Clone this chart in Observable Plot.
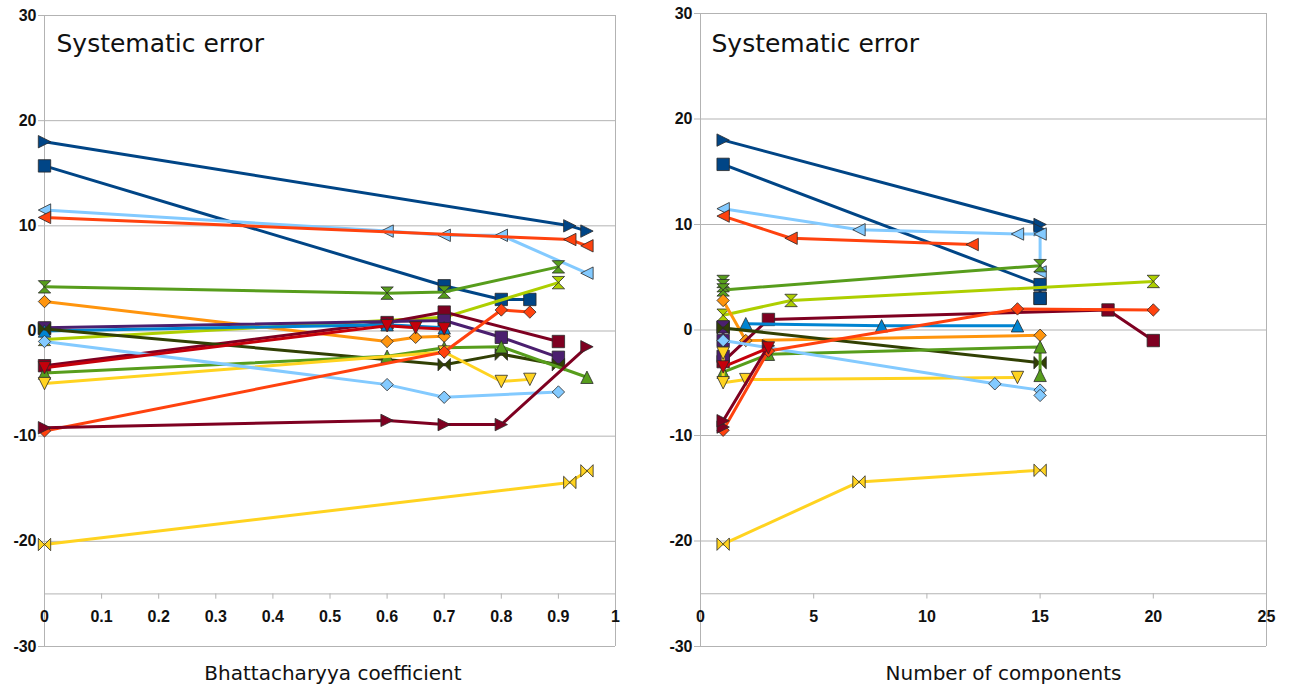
<!DOCTYPE html>
<html>
<head>
<meta charset="utf-8">
<script src="https://cdn.jsdelivr.net/npm/d3@7"></script>
<script src="https://cdn.jsdelivr.net/npm/@observablehq/plot@0.6"></script>
<style>
  html, body { margin: 0; padding: 0; background: #fff; }
  #wrap { position: relative; width: 1292px; height: 688px; }
  #left, #right { position: absolute; top: 0; }
  #left { left: 0; }
  #right { left: 646px; }
  .ticklab, .ticklab text { font-weight: 700 !important; font-family: 'Liberation Sans', Arial, sans-serif !important; }
</style>
</head>
<body>
<div id="wrap"><div id="left"></div><div id="right"></div></div>
<script>
// ---- Series styling (one entry per series) ----
const seriesColor = ["#004586","#004586","#83caff","#ff420e","#579d1c","#aecf00","#ff950e","#7e0021","#4b1f6f","#0084d1","#314004","#579d1c","#ffd320","#83caff","#ff420e","#7e0021","#ffd320","#c5000b"];
const seriesShape = ["triRight","square","triLeft","triLeft","hourglass","hourglass","diamond","square","square","triUp","bowtie","triUp","triDown","diamond","diamond","triRight","bowtie","triDown"];

// ---- Left panel: Bhattacharyya coefficient ----
const bcX = [
  [0,0.92,0.95],
  [0,0.7,0.8,0.85],
  [0,0.6,0.7,0.8,0.95],
  [0,0.92,0.95],
  [0,0.6,0.7,0.9],
  [0,0.7,0.9],
  [0,0.6,0.65,0.7],
  [0,0.6,0.7,0.9],
  [0,0.7,0.8,0.9],
  [0,0.6,0.7],
  [0,0.7,0.8,0.9],
  [0,0.6,0.7,0.8,0.95],
  [0,0.7,0.8,0.85],
  [0,0.6,0.7,0.9],
  [0,0.7,0.8,0.85],
  [0,0.6,0.7,0.8,0.95],
  [0,0.92,0.95],
  [0,0.6,0.65,0.7]
];
const bcY = [
  [18.0,10.0,9.5],
  [15.7,4.3,3.0,3.0],
  [11.5,9.5,9.1,9.1,5.5],
  [10.8,8.7,8.1],
  [4.2,3.6,3.7,6.1],
  [-0.8,1.3,4.6],
  [2.8,-1.0,-0.6,-0.5],
  [-3.3,0.8,1.8,-1.0],
  [0.3,1.0,-0.6,-2.5],
  [0.0,0.6,0.3],
  [0.2,-3.2,-2.2,-3.2],
  [-4.0,-2.4,-1.6,-1.5,-4.4],
  [-5.0,-2.0,-4.8,-4.6],
  [-1.0,-5.1,-6.3,-5.8],
  [-9.5,-2.0,2.0,1.8],
  [-9.2,-8.5,-8.9,-8.9,-1.5],
  [-20.3,-14.4,-13.3],
  [-3.5,0.5,0.3,0.2]
];

// ---- Right panel: Number of components ----
const ncX = [
  [1,15,15],
  [1,15,15,15],
  [1,7,14,15,15],
  [1,4,12],
  [1,1,1,15],
  [1,4,20],
  [1,2,15],
  [1,3,18,20],
  [1,1,1],
  [2,8,14],
  [1,15],
  [1,3,15,15],
  [1,1,2,14],
  [1,13,15,15],
  [1,3,14,20],
  [1,1,3],
  [1,7,15],
  [1,3]
];
const ncY = [
  [18.0,10.0,9.5],
  [15.7,4.3,3.0,3.0],
  [11.5,9.5,9.1,9.1,5.5],
  [10.8,8.7,8.1],
  [4.6,4.2,3.8,6.1],
  [1.4,2.8,4.6],
  [2.8,-1.0,-0.5],
  [-3.0,1.0,1.9,-1.0],
  [0.3,-1.0,-2.5],
  [0.6,0.4,0.4],
  [0.2,-3.1],
  [-4.0,-2.3,-1.6,-4.3],
  [-2.2,-5.0,-4.7,-4.5],
  [-1.0,-5.1,-5.7,-6.2],
  [-9.5,-2.0,2.0,1.9],
  [-9.2,-8.6,-1.5],
  [-20.3,-14.4,-13.3],
  [-3.5,-1.7]
];

// ---- Axis ticks and labels ----
const yTicks = [-30,-20,-10,0,10,20,30];
const yTickLabels = ["-30","-20","-10","0","10","20","30"];
const bcTicks = [0,0.1,0.2,0.3,0.4,0.5,0.6,0.7,0.8,0.9,1];
const bcTickLabels = ["0","0.1","0.2","0.3","0.4","0.5","0.6","0.7","0.8","0.9","1"];
const ncTicks = [0,5,10,15,20,25];
const ncTickLabels = ["0","5","10","15","20","25"];
const panelTitle = "Systematic error";
const bcTitle = "Bhattacharyya coefficient";
const ncTitle = "Number of components";
const xAxisAt = -25;

// ---- Custom marker symbols ----
function sym(f) { return { draw(ctx, size) { const s = Math.sqrt(size / Math.PI); f(ctx, s); } }; }
const symbols = {
  square: sym((c, s) => { c.rect(-s, -s, 2 * s, 2 * s); }),
  diamond: sym((c, s) => { c.moveTo(0, -s); c.lineTo(s, 0); c.lineTo(0, s); c.lineTo(-s, 0); c.closePath(); }),
  triRight: sym((c, s) => { c.moveTo(-s, -s); c.lineTo(s, 0); c.lineTo(-s, s); c.closePath(); }),
  triLeft: sym((c, s) => { c.moveTo(s, -s); c.lineTo(-s, 0); c.lineTo(s, s); c.closePath(); }),
  triUp: sym((c, s) => { c.moveTo(0, -s); c.lineTo(s, s); c.lineTo(-s, s); c.closePath(); }),
  triDown: sym((c, s) => { c.moveTo(-s, -s); c.lineTo(s, -s); c.lineTo(0, s); c.closePath(); }),
  hourglass: sym((c, s) => { c.moveTo(-s, -s); c.lineTo(s, -s); c.lineTo(-s, s); c.lineTo(s, s); c.closePath(); }),
  bowtie: sym((c, s) => { c.moveTo(-s, -s); c.lineTo(-s, s); c.lineTo(s, -s); c.lineTo(s, s); c.closePath(); })
};

const GRID = "#b3b3b3";
const TICKFONT = "'Liberation Sans', Arial, sans-serif";
const LABELFONT = "'DejaVu Sans', sans-serif";

function panel({xs, ys, xDomain, xTicks, xTickLabels, xTitle, marginLeft, marginRight, marginTop, titleDx, titleDy, xTitleDx}) {
  const marks = [];
  marks.push(Plot.ruleY(yTicks, {stroke: GRID, strokeWidth: 1}));
  marks.push(Plot.ruleX([xDomain[0], xDomain[1]], {stroke: GRID, strokeWidth: 1}));
  marks.push(Plot.ruleY([xAxisAt], {stroke: GRID, strokeWidth: 1}));
  marks.push(Plot.ruleX(xTicks, {x: d => d, y1: xAxisAt, y2: xAxisAt - 0.5, stroke: GRID}));
  // y-axis outer ticks only (labels drawn separately in bold)
  marks.push(Plot.axisY({ticks: yTicks, tickSize: 6, stroke: GRID, tickFormat: () => "", label: null}));
  marks.push(Plot.text(yTicks, {y: d => d, x: xDomain[0], dx: -8, textAnchor: "end", text: (d, i) => yTickLabels[i], fontFamily: TICKFONT, fontSize: 16, fontWeight: "bold", fill: "#111", className: "ticklab"}));
  marks.push(Plot.text(xTicks, {x: d => d, y: xAxisAt - 2.15, text: (d, i) => xTickLabels[i], fontFamily: TICKFONT, fontSize: 16, fontWeight: "bold", fill: "#111", className: "ticklab"}));
  for (let i = 0; i < xs.length; i++) {
    const rows = xs[i].map((x, j) => ({x, y: ys[i][j]}));
    marks.push(Plot.line(rows, {x: "x", y: "y", stroke: seriesColor[i], strokeWidth: 3, strokeLinejoin: "round", strokeLinecap: "round"}));
    marks.push(Plot.dot(rows, {x: "x", y: "y", symbol: symbols[seriesShape[i]], r: 6.2, fill: seriesColor[i], stroke: "#2a2a2a", strokeWidth: 0.8}));
  }
  marks.push(Plot.text([panelTitle], {frameAnchor: "top-left", textAnchor: "start", lineAnchor: "middle", dx: titleDx, dy: titleDy, fontSize: 25, fontFamily: LABELFONT, fill: "#111"}));
  marks.push(Plot.text([xTitle], {frameAnchor: "bottom", textAnchor: "middle", lineAnchor: "middle", dx: xTitleDx, dy: 27, fontSize: 20, fontFamily: LABELFONT, fill: "#111"}));
  const svg = Plot.plot({
    width: 646, height: 688,
    marginLeft, marginRight, marginTop, marginBottom: 42,
    x: {type: "linear", domain: xDomain, axis: null, label: null},
    y: {type: "linear", domain: [-30, 30], axis: null, label: null},
    style: {background: "#fff", fontFamily: TICKFONT, overflow: "visible"},
    marks
  });
  d3.select(svg).selectAll(".ticklab text").style("font-weight", "700");
  return svg;
}

document.getElementById("left").appendChild(panel({
  xs: bcX, ys: bcY, xDomain: [0, 1], xTicks: bcTicks, xTickLabels: bcTickLabels, xTitle: bcTitle,
  marginLeft: 44, marginRight: 31, marginTop: 15, titleDx: 12, titleDy: 28, xTitleDx: 3
}));
document.getElementById("right").appendChild(panel({
  xs: ncX, ys: ncY, xDomain: [0, 25], xTicks: ncTicks, xTickLabels: ncTickLabels, xTitle: ncTitle,
  marginLeft: 54, marginRight: 26, marginTop: 13, titleDx: 11, titleDy: 30, xTitleDx: 20
}));
</script>
</body>
</html>
